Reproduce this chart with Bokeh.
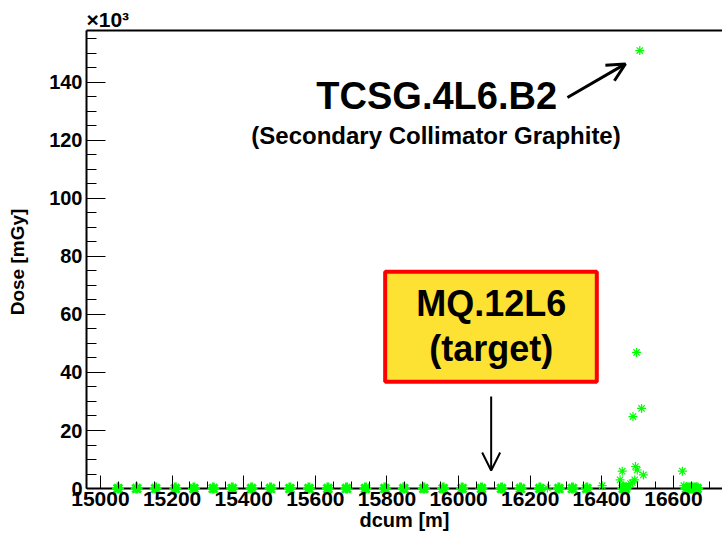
from bokeh.plotting import figure
from bokeh.models import (Range1d, FixedTicker, LinearAxis, Label, Arrow, OpenHead,
                          BoxAnnotation, ColumnDataSource, Span, Title)
from bokeh.embed import file_html
from bokeh.resources import INLINE

# ---------------- data ----------------
# monitors with (almost) zero dose, along the arc
dcum_zero = [15049, 15101, 15154, 15209, 15261, 15315, 15368, 15422, 15475, 15529,
             15582, 15635, 15687, 15740, 15794, 15847, 15903, 15957, 16010, 16064,
             16120, 16173, 16227, 16280, 16318, 16358, 16460, 16466,
             16637, 16645, 16652, 16660, 16666]
dose_zero = [0, 0, 0, 0, 0, 0, 0, 0, 0, 0,
             0, 0, 0, 0, 0, 0, 0, 0, 0, 0,
             0, 0, 0, 0, 0, 0, 0, 0,
             0, 0, 0, 0, 0]
# monitors with non-negligible dose [mGy]
dcum_hot = [16248, 16401, 16451, 16457, 16460, 16471, 16480, 16485, 16492, 16494,
            16499, 16516, 16625, 16629, 16487, 16497, 16511, 16506]
dose_hot = [200, 1000, 3000, 6000, 1000, 400, 1700, 2000, 3000, 7600,
            6400, 4700, 6000, 1000, 24800, 46900, 27600, 150900]

x_major = [15000, 15200, 15400, 15600, 15800, 16000, 16200, 16400, 16600]
x_minor = [v for v in range(14950, 16751, 50)]
y_major = [0, 20000, 40000, 60000, 80000, 100000, 120000, 140000]
y_major_labels = ["0", "20", "40", "60", "80", "100", "120", "140"]
y_minor = [v for v in range(0, 155001, 5000)]

FONT = "Liberation Sans"
GREEN = "#00ff00"

p = figure(width=722, height=536, output_backend="svg", toolbar_location=None,
           x_range=Range1d(14961, 16737), y_range=Range1d(-1700, 157800),
           x_axis_location=None, y_axis_location=None,
           min_border_left=86, min_border_right=0, min_border_top=30, min_border_bottom=43)
p.outline_line_color = None
p.background_fill_color = "white"
p.border_fill_color = "white"
p.grid.visible = False

# ---------------- axes ----------------
xaxis = LinearAxis(ticker=FixedTicker(ticks=x_major, minor_ticks=x_minor))
xaxis.axis_line_color = None
xaxis.major_tick_in = 18
xaxis.major_tick_out = -5
xaxis.minor_tick_in = 12
xaxis.minor_tick_out = -5
xaxis.major_tick_line_width = 1
xaxis.minor_tick_line_width = 1
xaxis.major_label_text_font = FONT
xaxis.major_label_text_font_style = "bold"
xaxis.major_label_text_font_size = "21px"
xaxis.major_label_text_color = "black"
xaxis.major_label_standoff = 3
xaxis.axis_label = "dcum [m]"
xaxis.axis_label_text_font = FONT
xaxis.axis_label_text_font_style = "bold"
xaxis.axis_label_text_font_size = "20px"
xaxis.axis_label_text_color = "black"
xaxis.axis_label_standoff = 0
p.add_layout(xaxis, "below")

# the x axis line itself, at zero dose
p.add_layout(Span(location=0, dimension="width", line_color="black", line_width=2,
                  level="underlay"))

yaxis = LinearAxis(ticker=FixedTicker(ticks=y_major, minor_ticks=y_minor),
                   major_label_overrides={v: s for v, s in zip(y_major, y_major_labels)},
                   bounds=(0, 157800))
yaxis.axis_line_width = 2
yaxis.major_tick_in = 19
yaxis.major_tick_out = 0
yaxis.minor_tick_in = 10
yaxis.minor_tick_out = 0
yaxis.major_label_text_font = FONT
yaxis.major_label_text_font_style = "bold"
yaxis.major_label_text_font_size = "20px"
yaxis.major_label_text_color = "black"
yaxis.major_label_standoff = 4
yaxis.axis_label = "Dose [mGy]"
yaxis.axis_label_text_font = FONT
yaxis.axis_label_text_font_style = "bold"
yaxis.axis_label_text_font_size = "19px"
yaxis.axis_label_text_color = "black"
yaxis.axis_label_standoff = 18
p.add_layout(yaxis, "left")

topaxis = LinearAxis(ticker=FixedTicker(ticks=[]))
topaxis.axis_line_width = 2
topaxis.major_tick_line_color = None
topaxis.minor_tick_line_color = None
topaxis.major_tick_in = 0
topaxis.major_tick_out = 0
topaxis.minor_tick_in = 0
topaxis.minor_tick_out = 0
topaxis.major_label_text_font_size = "0px"
p.add_layout(topaxis, "above")

p.add_layout(Title(text="\u00d710\u00b3", align="left", offset=0, standoff=0,
                   text_font=FONT, text_font_style="bold", text_font_size="21px",
                   text_color="black"), "above")

# ---------------- data points ----------------
src_zero = ColumnDataSource(dict(x=dcum_zero, y=dose_zero))
src_hot = ColumnDataSource(dict(x=dcum_hot, y=dose_hot))
p.scatter("x", "y", source=src_zero, marker="asterisk", size=12, line_color=GREEN, line_width=3)
p.scatter("x", "y", source=src_hot, marker="asterisk", size=9, line_color=GREEN, line_width=1.2)

# ---------------- annotations ----------------
def lab(text, x, y, size):
    p.add_layout(Label(x=x, y=y, text=text, text_font=FONT, text_font_style="bold",
                       text_font_size=size, text_color="black", text_align="center",
                       text_baseline="middle"))

# TCSG annotation
lab("TCSG.4L6.B2", 15939, 135100, "38px")
lab("(Secondary Collimator Graphite)", 15937, 121500, "24px")
p.add_layout(Arrow(end=OpenHead(size=18, line_width=3, line_color="black"),
                   x_start=16304, y_start=134700, x_end=16466, y_end=146300,
                   line_width=3, line_color="black"))

# MQ target box
p.add_layout(BoxAnnotation(left=15795, right=16386, bottom=36800, top=74700,
                           fill_color="#fde234", fill_alpha=1.0,
                           line_color="#ff0000", line_width=4, line_alpha=1.0))
lab("MQ.12L6", 16091, 63700, "36px")
lab("(target)", 16091, 48400, "36px")
p.add_layout(Arrow(end=OpenHead(size=18, line_width=2, line_color="black"),
                   x_start=16091, y_start=31700, x_end=16091, y_end=6200,
                   line_width=2, line_color="black"))

open("out.html", "w").write(file_html(p, INLINE))
